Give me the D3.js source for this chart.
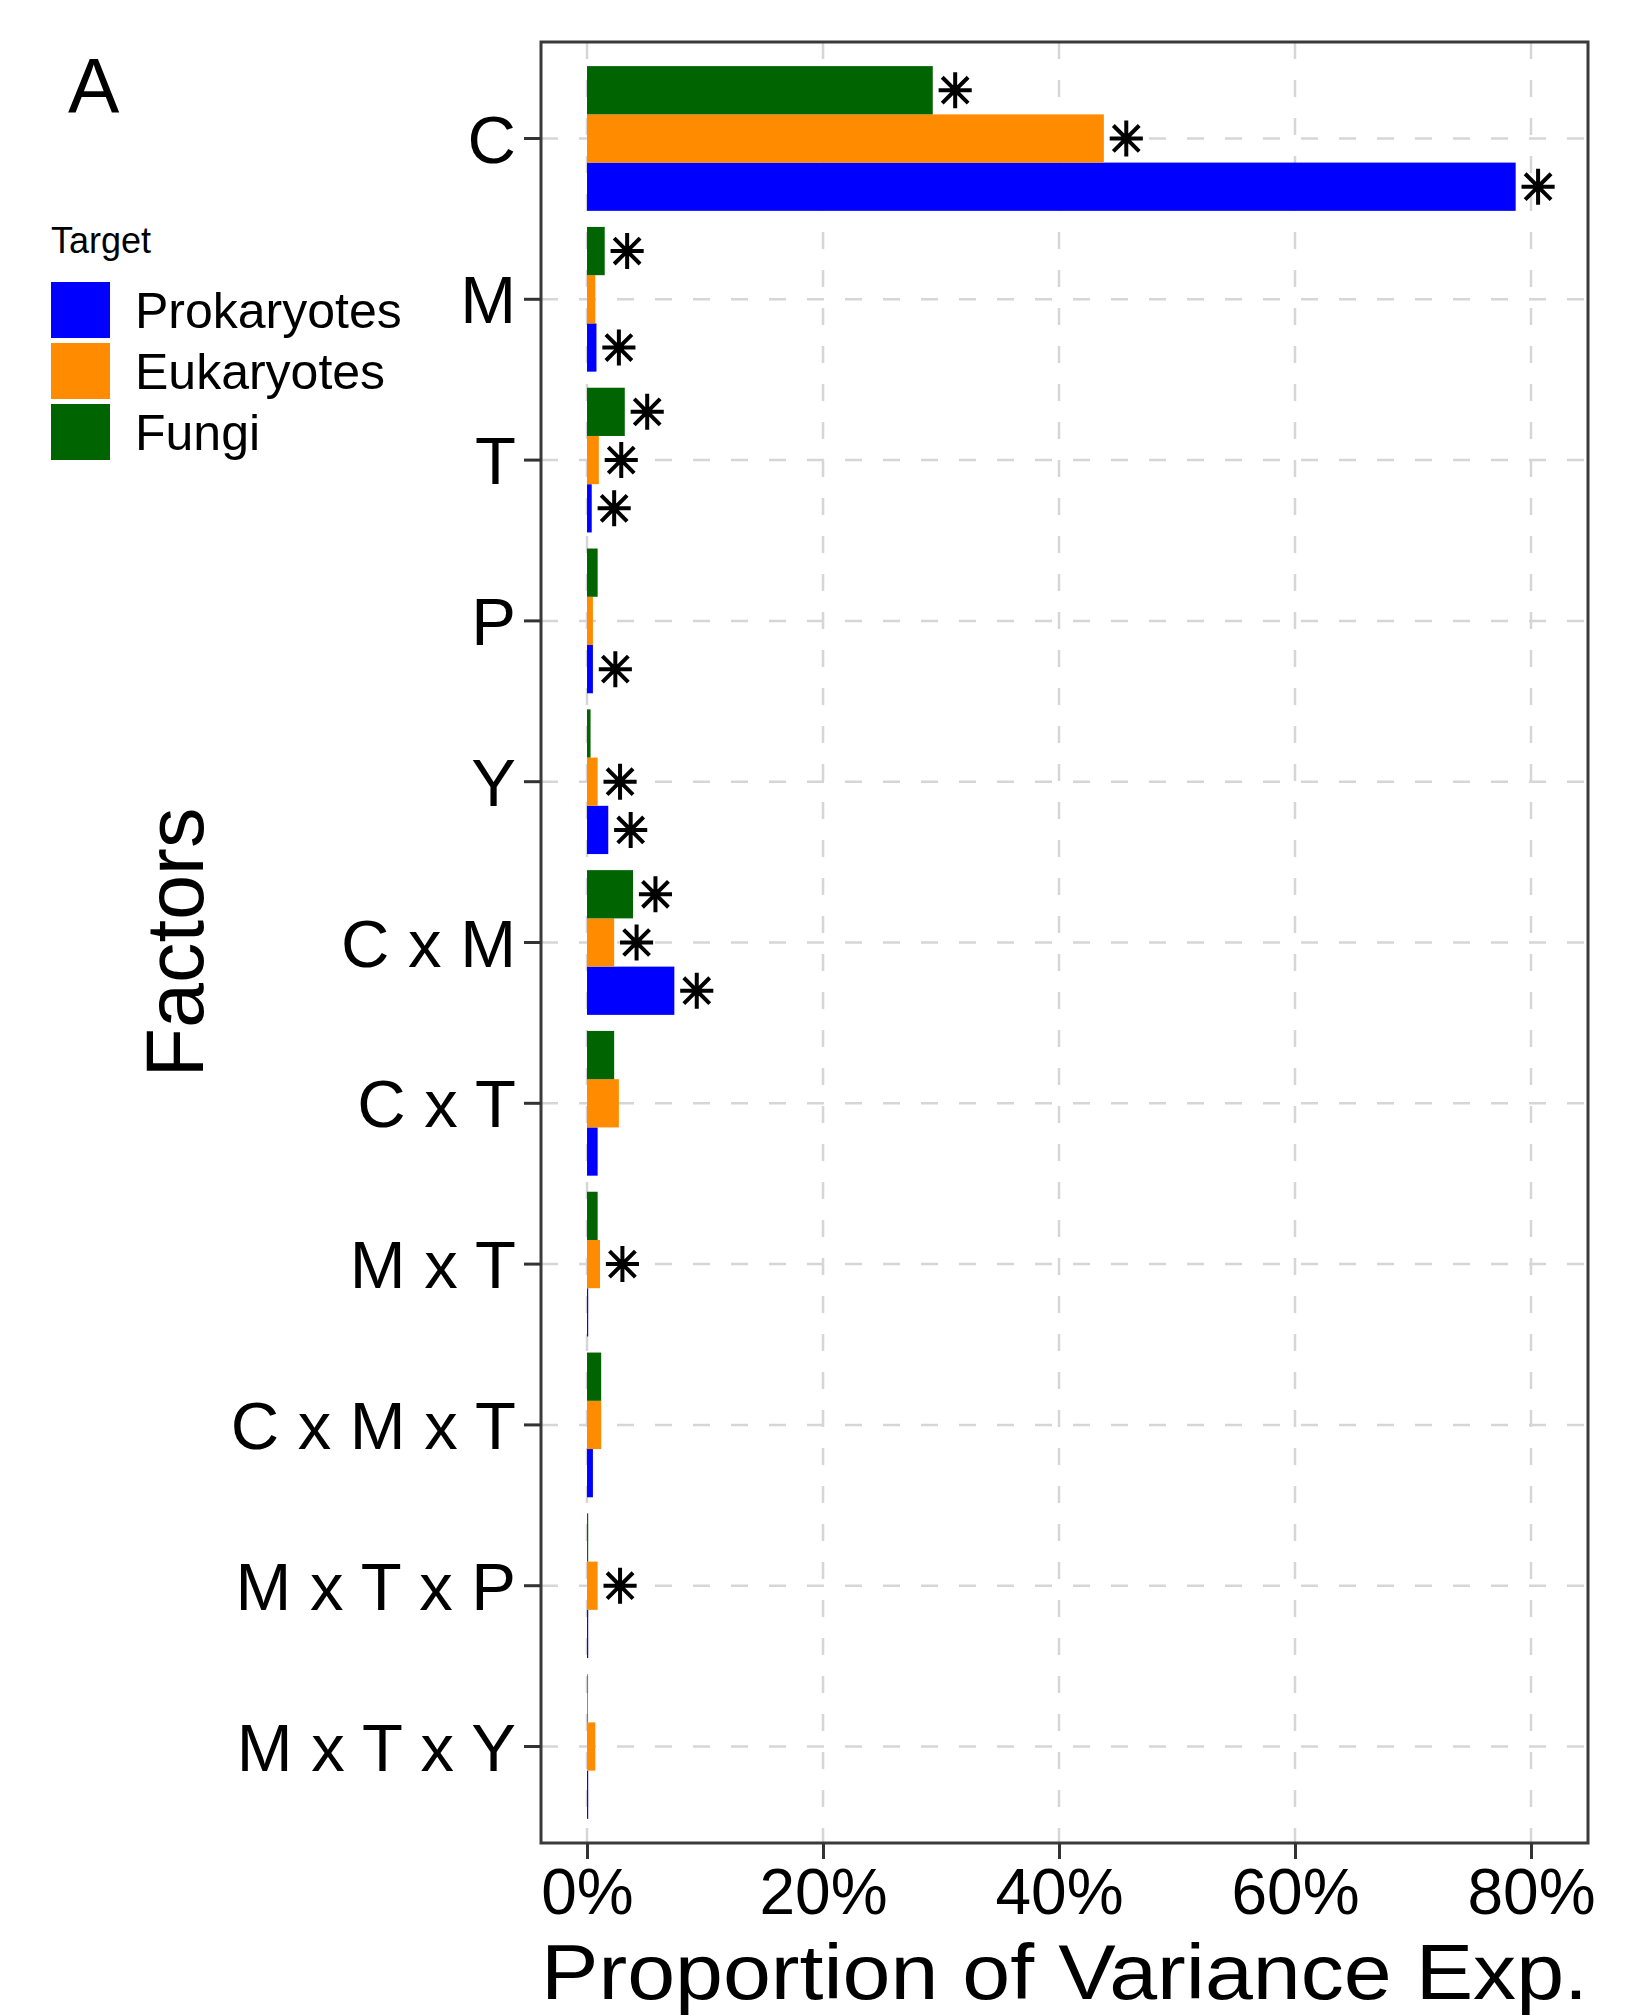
<!DOCTYPE html>
<html>
<head>
<meta charset="utf-8">
<script src="https://cdn.jsdelivr.net/npm/d3@7"></script>
<style>
  html, body { margin: 0; padding: 0; background: #fff; }
  svg { display: block; }
  text { font-family: "Liberation Sans", Arial, Helvetica, sans-serif; fill: #000; }
</style>
</head>
<body>
<svg id="chart" width="1642" height="2015"></svg>
<script>
// ---- data ----
const categories = ["C", "M", "T", "P", "Y", "C x M", "C x T", "M x T", "C x M x T", "M x T x P", "M x T x Y"];
const seriesNames = ["Prokaryotes", "Eukaryotes", "Fungi"];
const prokaryotes = [78.7, 0.8, 0.4, 0.5, 1.8, 7.4, 0.9, 0.1, 0.5, 0.1, 0.1];
const eukaryotes  = [43.8, 0.7, 1.0, 0.5, 0.9, 2.3, 2.7, 1.1, 1.2, 0.9, 0.7];
const fungi       = [29.3, 1.5, 3.2, 0.9, 0.3, 3.9, 2.3, 0.9, 1.2, 0.1, 0.05];
const sigProkaryotes = [1, 1, 1, 1, 1, 1, 0, 0, 0, 0, 0];
const sigEukaryotes  = [1, 0, 1, 0, 1, 1, 0, 1, 0, 1, 0];
const sigFungi       = [1, 1, 1, 0, 0, 1, 0, 0, 0, 0, 0];
const xTicks = [0, 20, 40, 60, 80];
const xTickLabels = ["0%", "20%", "40%", "60%", "80%"];
const colors = ["#0000FF", "#FF8C00", "#006400"];

const series = [
  { name: seriesNames[0], values: prokaryotes, sig: sigProkaryotes, color: colors[0] },
  { name: seriesNames[1], values: eukaryotes,  sig: sigEukaryotes,  color: colors[1] },
  { name: seriesNames[2], values: fungi,       sig: sigFungi,       color: colors[2] }
];

// ---- layout ----
const panel = { left: 541, right: 1588, top: 42, bottom: 1843 };
const svg = d3.select("#chart");

const x = d3.scaleLinear().domain([-3.9, 84.83]).range([panel.left, panel.right]);
const y = d3.scaleBand().domain(categories)
  .range([panel.top, panel.bottom]).paddingOuter(0.1).paddingInner(0);
const bandW = y.bandwidth();
const groupW = bandW * 0.9;
const barH = groupW / 3;
// Order within group (top to bottom): Fungi, Eukaryotes, Prokaryotes
const dodgeIndex = { "Fungi": 0, "Eukaryotes": 1, "Prokaryotes": 2 };
function barTop(cat, name) {
  const c = y(cat) + bandW / 2;
  return c - groupW / 2 + dodgeIndex[name] * barH;
}

// panel background
svg.append("rect").attr("x", panel.left).attr("y", panel.top)
  .attr("width", panel.right - panel.left).attr("height", panel.bottom - panel.top)
  .attr("fill", "#fff");

// grid lines
const grid = svg.append("g").attr("stroke", "#d6d6d6").attr("stroke-width", 2.5)
  .attr("stroke-dasharray", "17,21");
grid.selectAll("line.v").data(xTicks).join("line").attr("class", "v")
  .attr("x1", d => x(d)).attr("x2", d => x(d))
  .attr("y1", panel.top).attr("y2", panel.bottom);
grid.selectAll("line.h").data(categories).join("line").attr("class", "h")
  .attr("x1", panel.left).attr("x2", panel.right)
  .attr("y1", d => y(d) + bandW / 2).attr("y2", d => y(d) + bandW / 2);

// bars
const barsG = svg.append("g");
series.forEach(s => {
  barsG.selectAll(null).data(categories).join("rect")
    .attr("x", x(0))
    .attr("y", (c) => barTop(c, s.name))
    .attr("width", (c, i) => Math.max(0, x(s.values[i]) - x(0)))
    .attr("height", barH)
    .attr("fill", s.color);
});

// asterisks (8-armed, like R shape 8)
function asteriskPath(r) {
  const d = r * 0.72;
  return `M0,${-r}L0,${r}M${-r*0.92},0L${r*0.92},0M${-d},${-d}L${d},${d}M${-d},${d}L${d},${-d}`;
}
const astG = svg.append("g").attr("stroke", "#000").attr("stroke-width", 4).attr("fill", "none");
series.forEach(s => {
  categories.forEach((c, i) => {
    if (!s.sig[i]) return;
    const cx = x(s.values[i] + 1.9);
    const cy = barTop(c, s.name) + barH / 2;
    const g = astG.append("g").attr("transform", `translate(${cx},${cy})`);
    g.append("path").attr("d", asteriskPath(18));
    g.append("circle").attr("r", 5).attr("fill", "#000").attr("stroke", "none");
  });
});

// panel border
svg.append("rect").attr("x", panel.left).attr("y", panel.top)
  .attr("width", panel.right - panel.left).attr("height", panel.bottom - panel.top)
  .attr("fill", "none").attr("stroke", "#3a3a3a").attr("stroke-width", 3);

// y axis
const yAxis = d3.axisLeft(y).tickSize(17).tickPadding(8);
const yg = svg.append("g").attr("transform", `translate(${panel.left},0)`).call(yAxis);
yg.select(".domain").remove();
yg.selectAll(".tick line").attr("stroke", "#333").attr("stroke-width", 3);
yg.selectAll(".tick text").attr("font-size", 67)
  .attr("font-family", "'Liberation Sans', Arial, Helvetica, sans-serif")
  .attr("fill", "#000").attr("dy", "0.36em");

// x axis
const xAxis = d3.axisBottom(x).tickValues(xTicks).tickFormat((d, i) => xTickLabels[i])
  .tickSize(16).tickPadding(10);
const xg = svg.append("g").attr("transform", `translate(0,${panel.bottom})`).call(xAxis);
xg.select(".domain").remove();
xg.selectAll(".tick line").attr("stroke", "#333").attr("stroke-width", 3);
xg.selectAll(".tick text").attr("font-size", 64)
  .attr("font-family", "'Liberation Sans', Arial, Helvetica, sans-serif")
  .attr("fill", "#000").attr("dy", "0.71em");

// axis titles
svg.append("text").attr("x", panel.left).attr("y", 1999)
  .attr("font-size", 78).attr("textLength", 1047).attr("lengthAdjust", "spacingAndGlyphs")
  .text("Proportion of Variance Exp.");
svg.append("text").attr("transform", `translate(203,${(panel.top + panel.bottom) / 2}) rotate(-90)`)
  .attr("text-anchor", "middle").attr("font-size", 81).text("Factors");

// panel tag
svg.append("text").attr("x", 68).attr("y", 113).attr("font-size", 77).text("A");

// legend
const legend = svg.append("g");
legend.append("text").attr("x", 51).attr("y", 253).attr("font-size", 36).text("Target");
const keyCenters = [310, 371, 432];
series.forEach((s, i) => {
  legend.append("rect").attr("x", 51).attr("y", keyCenters[i] - 28)
    .attr("width", 59).attr("height", 56).attr("fill", s.color);
  legend.append("text").attr("x", 135).attr("y", keyCenters[i] + 18)
    .attr("font-size", 50).text(s.name);
});
</script>
</body>
</html>
